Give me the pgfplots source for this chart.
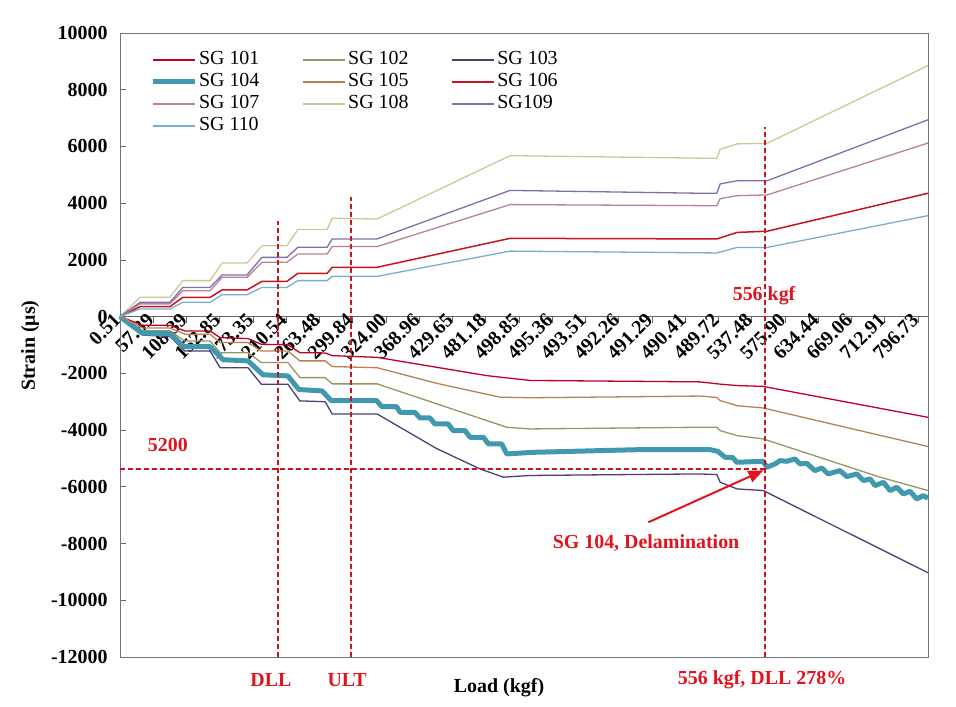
\documentclass[border=0pt]{standalone}
\usepackage{pgfplots}
\pgfplotsset{compat=1.18}
\usepackage{fontspec}
\setmainfont{Liberation Serif}
\usetikzlibrary{arrows.meta}

\definecolor{c101}{RGB}{192,0,40}
\definecolor{c102}{RGB}{150,150,100}
\definecolor{c103}{RGB}{75,65,120}
\definecolor{c104}{RGB}{65,152,175}
\definecolor{c105}{RGB}{185,130,80}
\definecolor{c106}{RGB}{200,20,30}
\definecolor{c107}{RGB}{185,130,150}
\definecolor{c108}{RGB}{205,200,150}
\definecolor{c109}{RGB}{130,110,175}
\definecolor{c110}{RGB}{120,175,205}
\definecolor{dred}{RGB}{200,20,30}
\definecolor{ared}{RGB}{225,20,30}

\begin{document}
\begin{tikzpicture}
\begin{axis}[name=ax, at={(0,0)}, anchor=south west,
  scale only axis, width=808bp, height=624bp,
  xmin=0, xmax=24.3, ymin=-12000, ymax=10000,
  axis x line=middle, axis y line=left,
  axis line style={-, draw=black!60, line width=0.8bp},
  every inner x axis line/.append style={-},
  every outer y axis line/.append style={-},
  hide obscured x ticks=false, hide obscured y ticks=false,
  clip=false,
  xtick={0,...,24},
  xticklabels={0.51,57.39,108.39,152.85,173.35,210.54,263.48,299.84,324.00,368.96,429.65,481.18,498.85,495.36,493.51,492.26,491.29,490.41,489.72,537.48,575.90,634.44,669.06,712.91,796.73},
  ytick={-12000,-10000,...,10000},
  scaled y ticks=false,
  /pgf/number format/assume math mode=true,
  /pgf/number format/set thousands separator={},
  /pgf/number format/fixed,
  tick label style={font=\fontsize{20}{20}\selectfont\bfseries},
  xticklabel style={rotate=45, anchor=east, inner sep=1bp, xshift=3bp, yshift=6bp},
  yticklabel style={xshift=-9bp},
  major tick length=6bp,
  xtick align=outside,
  ytick align=inside,
  tick style={draw=black!60, line width=0.8bp},
  legend columns=3,
  legend cell align=left,
  legend style={draw=none, fill=none, at={(rel axis cs:0.037,0.975)}, anchor=north west, inner sep=0pt,
    font=\fontsize{20}{20}\selectfont,
    nodes={text height=14bp, text depth=4bp, inner ysep=2bp, inner xsep=2bp},
    /tikz/every even column/.append style={column sep=41bp}},
  legend image code/.code={\draw[#1] (0bp,0bp) -- (42bp,0bp);},
  legend image post style={line width=1.8bp},
]
\draw[black!55, line width=0.8bp] (rel axis cs:0,0) rectangle (rel axis cs:1,1);

% SG 101
\addplot[color=c101, line width=1.3bp] coordinates {(0,0) (0.69,-305) (1.50,-305) (1.95,-505) (2.71,-505) (3.01,-740) (3.85,-775) (4.25,-975) (5.05,-990) (5.41,-1270) (6.17,-1280) (6.38,-1375) (7.73,-1435) (9.52,-1786) (11.03,-2080) (12.33,-2250) (17.44,-2300) (18.05,-2380) (18.56,-2430) (19.34,-2460) (24.3,-3550)};
\addlegendentry{SG 101}
% SG 102
\addplot[color=c102, line width=1.3bp] coordinates {(0,0) (0.69,-500) (1.50,-500) (1.95,-860) (2.71,-860) (3.01,-1270) (3.85,-1270) (4.25,-1620) (5.05,-1620) (5.41,-2150) (6.17,-2150) (6.38,-2370) (7.73,-2370) (11.63,-3900) (12.33,-3960) (17.44,-3900) (17.95,-3900) (18.05,-4020) (18.56,-4195) (19.34,-4310) (22.86,-5660) (24.3,-6130)};
\addlegendentry{SG 102}
% SG 103
\addplot[color=c103, line width=1.3bp] coordinates {(0,0) (0.69,-650) (1.50,-700) (1.95,-1210) (2.71,-1210) (3.01,-1800) (3.85,-1800) (4.25,-2385) (5.05,-2385) (5.41,-2970) (6.17,-3000) (6.38,-3430) (7.73,-3430) (9.52,-4650) (10.83,-5370) (11.53,-5660) (12.33,-5600) (17.44,-5545) (17.95,-5570) (18.05,-5840) (18.56,-6075) (19.34,-6130) (24.3,-9030)};
\addlegendentry{SG 103}
% SG 104
\addplot[color=c104, line width=5bp, line join=round, legend image post style={line width=5bp}] coordinates {(0,0) (0.66,-580) (1.50,-600) (1.92,-1050) (2.71,-1060) (3.10,-1520) (3.85,-1560) (4.30,-2050) (5.05,-2090) (5.38,-2570) (6.08,-2620) (6.35,-2960) (7.72,-2960) (7.87,-3173) (8.32,-3173) (8.42,-3373) (8.87,-3373) (9.02,-3573) (9.32,-3573) (9.47,-3784) (9.87,-3784) (10.02,-4019) (10.38,-4019) (10.53,-4254) (10.93,-4254) (11.08,-4489) (11.48,-4489) (11.63,-4840) (12.45,-4783) (14.44,-4724) (15.64,-4689) (17.74,-4689) (17.98,-4750) (18.2,-4960) (18.42,-4960) (18.55,-5135) (19.35,-5100) (19.45,-5311) (19.70,-5193) (19.85,-5076) (20.05,-5100) (20.30,-5017) (20.45,-5193) (20.65,-5170) (20.90,-5429) (21.10,-5334) (21.30,-5546) (21.65,-5429) (21.86,-5640) (22.16,-5546) (22.36,-5781) (22.56,-5722) (22.71,-5957) (22.96,-5840) (23.16,-6134) (23.36,-6016) (23.56,-6251) (23.76,-6157) (23.96,-6427) (24.16,-6310) (24.3,-6400)};
\addlegendentry{SG 104}
% SG 105
\addplot[color=c105, line width=1.3bp] coordinates {(0,0) (0.69,-400) (1.50,-400) (1.95,-620) (2.71,-620) (3.01,-915) (3.85,-915) (4.25,-1210) (5.05,-1210) (5.41,-1560) (6.17,-1560) (6.38,-1760) (7.73,-1800) (9.52,-2350) (11.43,-2840) (12.33,-2860) (17.44,-2800) (17.95,-2850) (18.05,-2960) (18.56,-3140) (19.34,-3220) (24.3,-4580)};
\addlegendentry{SG 105}
% SG 106
\addplot[color=c106, line width=1.5bp] coordinates {(0,0) (0.60,350) (1.50,350) (1.89,680) (2.71,680) (3.07,940) (3.82,940) (4.27,1245) (5.02,1245) (5.35,1525) (6.23,1525) (6.38,1740) (7.73,1740) (11.73,2760) (17.95,2740) (18.56,2970) (19.46,3010) (24.3,4350)};
\addlegendentry{SG 106}
% SG 107
\addplot[color=c107, line width=1.3bp] coordinates {(0,0) (0.60,450) (1.50,450) (1.89,915) (2.71,915) (3.07,1385) (3.82,1385) (4.27,1915) (5.02,1915) (5.35,2210) (6.23,2210) (6.38,2470) (7.73,2470) (11.73,3950) (17.95,3910) (18.05,4160) (18.56,4265) (19.46,4290) (24.3,6120)};
\addlegendentry{SG 107}
% SG 108
\addplot[color=c108, line width=1.3bp] coordinates {(0,0) (0.60,680) (1.50,680) (1.89,1270) (2.71,1270) (3.07,1890) (3.82,1890) (4.27,2500) (5.02,2500) (5.35,3070) (6.23,3070) (6.38,3470) (7.73,3440) (11.73,5675) (17.95,5580) (18.05,5900) (18.56,6090) (19.46,6110) (24.3,8850)};
\addlegendentry{SG 108}
% SG109
\addplot[color=c109, line width=1.3bp] coordinates {(0,0) (0.60,505) (1.50,505) (1.89,1030) (2.71,1030) (3.07,1470) (3.82,1470) (4.27,2090) (5.02,2090) (5.35,2445) (6.23,2445) (6.38,2740) (7.73,2740) (11.73,4450) (17.44,4350) (17.95,4350) (18.05,4680) (18.56,4790) (19.46,4790) (24.3,6940)};
\addlegendentry{SG109}
% SG 110
\addplot[color=c110, line width=1.3bp] coordinates {(0,0) (0.60,270) (1.50,270) (1.89,505) (2.71,505) (3.07,775) (3.82,775) (4.27,1030) (5.02,1030) (5.35,1270) (6.23,1270) (6.38,1420) (7.73,1420) (11.73,2310) (17.95,2245) (18.56,2440) (19.46,2440) (24.3,3560)};
\addlegendentry{SG 110}

% reference lines
\addplot[forget plot, dred, line width=2bp, dash pattern=on 5bp off 3bp] coordinates {(4.75,-12000) (4.75,3360)};
\addplot[forget plot, dred, line width=2bp, dash pattern=on 5bp off 3bp] coordinates {(6.94,-12000) (6.94,4230)};
\addplot[forget plot, dred, line width=2bp, dash pattern=on 5bp off 3bp] coordinates {(19.40,-12000) (19.40,6700)};
\addplot[forget plot, dred, line width=2bp, dash pattern=on 5bp off 3bp] coordinates {(0,-5360) (19.40,-5360)};

\draw[ared, line width=2bp, -{Triangle[length=15bp,width=12bp]}] (axis cs:15.89,-7250) -- (axis cs:19.35,-5420);

\node[ared, font=\fontsize{20}{20}\selectfont\bfseries] at (axis cs:1.44,-4510) {5200};
\node[ared, font=\fontsize{20}{20}\selectfont\bfseries] at (axis cs:19.37,740) {556 kgf};
\node[ared, font=\fontsize{20}{20}\selectfont\bfseries] at (axis cs:15.82,-8000) {SG 104, Delamination};
\node[ared, font=\fontsize{20}{20}\selectfont\bfseries] at ([yshift=-23bp]axis cs:4.54,-12000) {DLL};
\node[ared, font=\fontsize{20}{20}\selectfont\bfseries] at ([yshift=-23bp]axis cs:6.83,-12000) {ULT};
\node[ared, font=\fontsize{20}{20}\selectfont\bfseries] at ([yshift=-23bp]axis cs:19.31,-12000) {556 kgf, DLL 278\%};
\node[font=\fontsize{20}{20}\selectfont\bfseries] at ([yshift=-31bp]axis cs:11.40,-12000) {Load (kgf)};
\node[rotate=90, font=\fontsize{20}{20}\selectfont\bfseries] at ([xshift=-90bp]axis cs:0,-1022) {Strain (μs)};
\end{axis}
\pgfresetboundingbox
\path[use as bounding box] ([shift={(-120bp,-50bp)}]ax.south west) rectangle ([shift={(836bp,657bp)}]ax.south west);
\end{tikzpicture}
\end{document}
